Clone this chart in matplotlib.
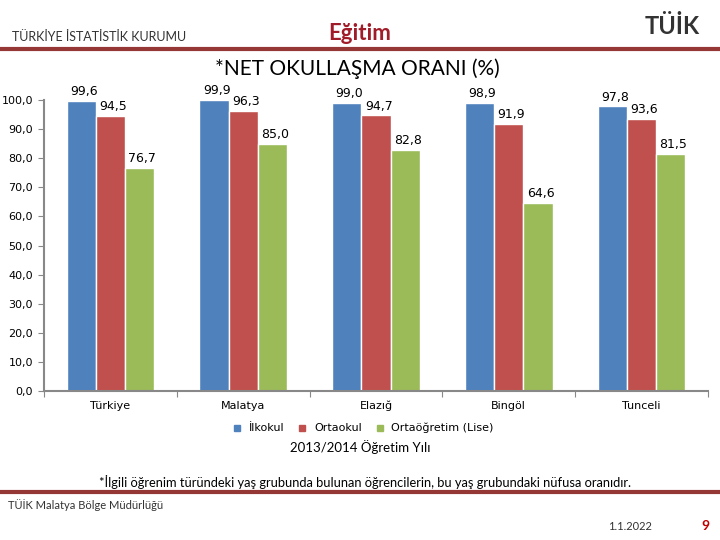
import matplotlib

matplotlib.use("Agg")
import matplotlib.pyplot as plt
import numpy as np
from matplotlib.lines import Line2D

# data
iller = ["Türkiye", "Malatya", "Elazığ", "Bingöl", "Tunceli"]
ilkokul = [99.6, 99.9, 99.0, 98.9, 97.8]
ortaokul = [94.5, 96.3, 94.7, 91.9, 93.6]
ortaogretim = [76.7, 85.0, 82.8, 64.6, 81.5]
seri_adlari = ["İlkokul", "Ortaokul", "Ortaöğretim (Lise)"]
renkler = ["#4F81BD", "#C0504D", "#9BBB59"]
yticks = np.arange(0, 101, 10)

fig = plt.figure(figsize=(7.2, 5.4), dpi=100)
ax = fig.add_axes([0.0611, 0.2759, 0.9222, 0.5389])

x = np.arange(len(iller))
w = 0.22
for i, (vals, name, c) in enumerate(zip([ilkokul, ortaokul, ortaogretim], seri_adlari, renkler)):
    pos = x + (i - 1) * w
    ax.bar(pos, vals, width=w, color=c, edgecolor="white", linewidth=1, clip_on=False, label=name)
    for p, v in zip(pos, vals):
        ax.text(p + 0.02, v + 1.0, f"{v:.1f}".replace(".", ","), ha="center", va="bottom",
                fontsize=9, color="#000000")

ax.set_xlim(-0.5, len(iller) - 0.5)
ax.set_ylim(0, 100)
ax.set_yticks(yticks)
ax.set_yticklabels([f"{t:.1f}".replace(".", ",") for t in yticks], fontsize=8)
ax.set_xticks(np.arange(-0.5, len(iller)), minor=False)
ax.set_xticklabels([])
ax.set_xticks(x, minor=True)
ax.set_xticklabels(iller, minor=True, fontsize=8)
ax.tick_params(axis="x", which="minor", length=0, pad=7)
ax.tick_params(axis="x", which="major", length=4, color="#888888", direction="out")
ax.tick_params(axis="y", length=4, color="#888888", direction="out", pad=4)
for s in ["top", "right"]:
    ax.spines[s].set_visible(False)
for s in ["left", "bottom"]:
    ax.spines[s].set_color("#888888")
    ax.spines[s].set_linewidth(1.5)

handles = [Line2D([], [], marker="s", linestyle="", markersize=5, color=c) for c in renkler]
fig.legend(handles, seri_adlari, loc="center", bbox_to_anchor=(0.5, 0.207), ncol=3,
           frameon=False, fontsize=8, handletextpad=0.05, columnspacing=0.6)

fig.text(0.5, 0.172, "2013/2014 Öğretim Yılı", ha="center", va="center", fontsize=9.5,
         family="Lato")

# header
fig.text(0.017, 0.931, "TÜRKİYE İSTATİSTİK KURUMU", ha="left", va="center", fontsize=9,
         color="#333333", family="Lato")
fig.text(0.5, 0.938, "Eğitim", ha="center", va="center", fontsize=16, color="#A01C28",
         family="Lato", fontweight="bold")
fig.text(0.972, 0.95, "TÜİK", ha="right", va="center", fontsize=17, color="#333333",
         family="Lato", fontweight="bold")
fig.add_artist(Line2D([0, 1], [0.909, 0.909], color="#953735", linewidth=3,
                      transform=fig.transFigure))
fig.text(0.497, 0.872, "*NET OKULLAŞMA ORANI (%)", ha="center", va="center", fontsize=15,
         color="#000000", family="Lato")

# footer
fig.text(0.507, 0.107, "*İlgili öğrenim türündeki yaş grubunda bulunan öğrencilerin, bu yaş grubundaki nüfusa oranıdır.",
         ha="center", va="center", fontsize=9.3, family="Lato")
fig.add_artist(Line2D([0, 1], [0.089, 0.089], color="#953735", linewidth=3,
                      transform=fig.transFigure))
fig.text(0.011, 0.065, "TÜİK Malatya Bölge Müdürlüğü", ha="left", va="center", fontsize=8,
         color="#333333", family="Lato")
fig.text(0.875, 0.025, "1.1.2022", ha="center", va="center", fontsize=8, color="#333333",
         family="Lato")
fig.text(0.98, 0.025, "9", ha="center", va="center", fontsize=10, color="#C00000",
         family="Lato", fontweight="bold")

fig.savefig("out.png", dpi=100)
plt.close(fig)
